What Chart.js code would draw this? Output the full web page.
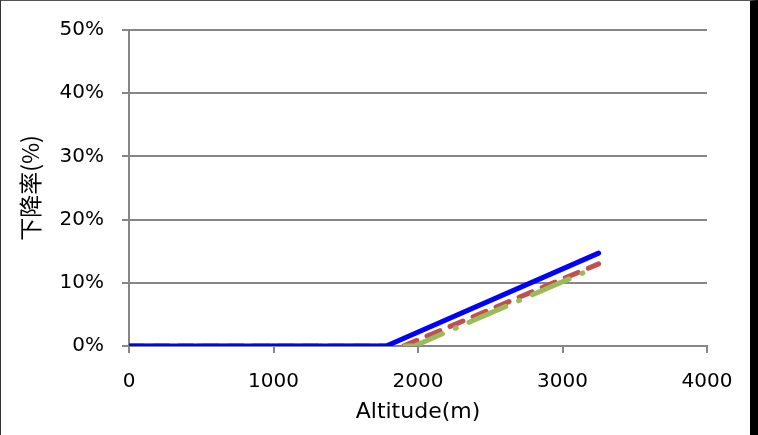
<!DOCTYPE html>
<html>
<head>
<meta charset="utf-8">
<script src="https://cdn.jsdelivr.net/npm/chart.js@4/dist/chart.umd.min.js"></script>
<style>
    html, body { margin: 0; padding: 0; background: #fff; }
    #wrap { position: relative; width: 758px; height: 435px; }
    #frame {
        position: absolute; left: 0; top: 0; width: 749px; height: 435px;
        border-left: 1px solid #333; border-top: 1px solid #555;
        border-right: 8px solid #000; pointer-events: none;
    }
</style>
</head>
<body>
<div id="wrap">
    <canvas id="chart" width="758" height="435"></canvas>
    <div id="frame"></div>
</div>
<script>
const xTicks = [0, 1000, 2000, 3000, 4000];
const yTicks = [0, 10, 20, 30, 40, 50];

const blueAlt = [0, 1780, 3250];
const blueRate = [0, 0, 14.7];
const redAlt = [0, 1900, 3250];
const redRate = [0, 0, 13.0];
const greenAlt = [0, 1975, 3165];
const greenRate = [0, 0, 11.8];

function toPoints(xs, ys) {
    return xs.map((x, i) => ({ x: x, y: ys[i] }));
}

const gridGrey = '#868686';
const font = { family: 'DejaVu Sans', size: 20 };

const ctx = document.getElementById('chart').getContext('2d');
new Chart(ctx, {
    type: 'line',
    data: {
        datasets: [
            {
                data: toPoints(blueAlt, blueRate),
                borderColor: '#0000FF',
                borderWidth: 5,
                pointRadius: 0,
                borderCapStyle: 'round',
                order: 1
            },
            {
                data: toPoints(redAlt, redRate),
                borderColor: '#C0504D',
                borderWidth: 5,
                borderDash: [14, 11],
                borderCapStyle: 'round',
                pointRadius: 0,
                order: 3
            },
            {
                data: toPoints(greenAlt, greenRate),
                borderColor: '#9BBB59',
                borderWidth: 5,
                borderDash: [40, 14, 1, 14],
                borderCapStyle: 'round',
                pointRadius: 0,
                order: 2
            }
        ]
    },
    options: {
        responsive: false,
        animation: false,
        layout: { padding: { left: 0, right: 51, top: 26, bottom: 0 } },
        plugins: {
            legend: { display: false },
            tooltip: { enabled: false }
        },
        scales: {
            x: {
                type: 'linear',
                min: 0,
                max: 4000,
                afterBuildTicks: scale => { scale.ticks = xTicks.map(v => ({ value: v })); },
                afterFit: scale => { scale.height = 89; },
                ticks: { font: font, color: '#000', padding: 17, maxRotation: 0, callback: v => String(v) },
                grid: { drawOnChartArea: false, drawTicks: true, tickLength: 7, color: gridGrey, lineWidth: 2 },
                border: { color: gridGrey, width: 2 },
                title: {
                    display: true,
                    text: 'Altitude(m)',
                    color: '#000',
                    font: { family: 'DejaVu Sans', size: 22 },
                    padding: { top: 0, bottom: 10 }
                }
            },
            y: {
                type: 'linear',
                min: 0,
                max: 50,
                afterBuildTicks: scale => { scale.ticks = yTicks.map(v => ({ value: v })); },
                afterFit: scale => { scale.width = 129; },
                ticks: { font: font, color: '#000', padding: 18, callback: v => v + '%' },
                grid: { drawTicks: true, tickLength: 7, color: gridGrey, lineWidth: 2 },
                border: { color: gridGrey, width: 2 },
                title: {
                    display: true,
                    text: '下降率(%)',
                    color: '#000',
                    font: { family: 'Noto Sans CJK SC', size: 23 },
                    padding: { top: 16, bottom: 0 }
                }
            }
        }
    }
});
</script>
</body>
</html>
